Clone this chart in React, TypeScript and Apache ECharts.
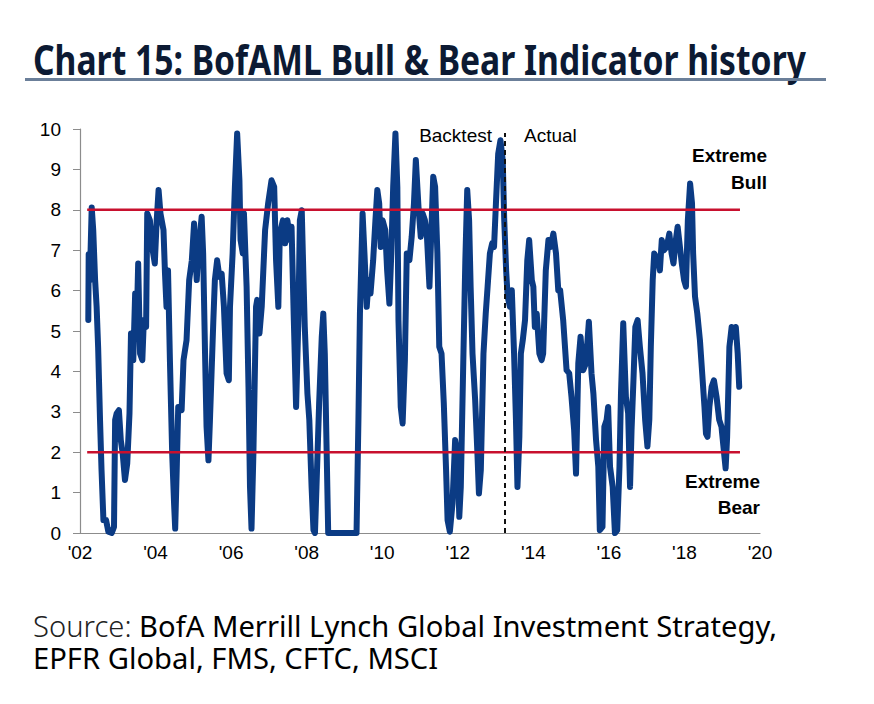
import React, { useEffect, useRef } from "react";
import * as echarts from "echarts";

const TITLE = "Chart 15: BofAML Bull & Bear Indicator history";
const SOURCE_LABEL = "Source:";
const SOURCE_LINE1 = "BofA Merrill Lynch Global Investment Strategy,";
const SOURCE_LINE2 = "EPFR Global, FMS, CFTC, MSCI";

const dates2002to2005 = [
  2002.22, 2002.23, 2002.26, 2002.31, 2002.35, 2002.4, 2002.44, 2002.48, 2002.53, 2002.57,
  2002.62, 2002.69, 2002.75, 2002.84, 2002.9, 2002.93, 2002.97, 2003.03, 2003.08, 2003.13,
  2003.19, 2003.25, 2003.31, 2003.35, 2003.41, 2003.46, 2003.5, 2003.54, 2003.59, 2003.65,
  2003.69, 2003.75, 2003.78, 2003.85, 2003.91, 2003.98, 2004.03, 2004.08, 2004.13, 2004.21,
  2004.25, 2004.29, 2004.33, 2004.38, 2004.44, 2004.49, 2004.52, 2004.56, 2004.6, 2004.69,
  2004.74, 2004.82, 2004.89, 2004.96,
];
const values2002to2005 = [
  5.27, 6.9, 6.26, 8.06, 7.5, 6.26, 5.6, 4.6, 2.8, 1.56,
  0.32, 0.32, 0.03, 0, 0.15, 2.8, 2.96, 3.04, 2.3, 1.97,
  1.31, 1.72, 2.96, 4.94, 4.28, 5.93, 5.1, 6.67, 4.44, 4.28,
  5.27, 5.1, 7.91, 7.74, 7.08, 6.67, 7.74, 8.49, 7.91, 7.5,
  6.42, 5.6, 6.5, 4.28, 1.97, 0.73, 0.11, 1.56, 3.12, 3.04,
  4.28, 4.77, 6.26, 6.75,
];

const dates2005to2008 = [
  2005.02, 2005.09, 2005.13, 2005.22, 2005.26, 2005.31, 2005.35, 2005.4, 2005.44, 2005.53,
  2005.57, 2005.63, 2005.69, 2005.75, 2005.81, 2005.88, 2005.94, 2005.97, 2006.04, 2006.1,
  2006.16, 2006.22, 2006.25, 2006.31, 2006.34, 2006.41, 2006.46, 2006.5, 2006.54, 2006.59,
  2006.66, 2006.69, 2006.75, 2006.81, 2006.9, 2006.98, 2007.07, 2007.14, 2007.19, 2007.25,
  2007.29, 2007.37, 2007.43, 2007.49, 2007.56, 2007.6, 2007.66, 2007.72, 2007.78, 2007.82,
  2007.87, 2007.91, 2007.95,
];
const values2005to2008 = [
  7.66, 6.26, 6.92, 7.83, 6.92, 4.44, 2.63, 1.8, 2.8, 5.27,
  6.26, 6.75, 6.34, 6.42, 5.6, 3.95, 3.78, 5.6, 6.92, 8.57,
  9.89, 8.73, 7.25, 6.92, 7.91, 6.1, 3.62, 1.14, 0.11, 1.97,
  5.6, 5.77, 4.94, 5.6, 7.5, 8.16, 8.73, 8.57, 6.75, 5.6,
  7.41, 7.74, 7.17, 7.74, 7.25, 7.58, 5.27, 3.12, 5.27, 7.74,
  7.99, 6.5, 5.1,
];

const dates2008to2011 = [
  2008.02, 2008.07, 2008.13, 2008.18, 2008.22, 2008.26, 2008.33, 2008.4, 2008.44, 2008.48,
  2008.53, 2008.57, 2009.32, 2009.37, 2009.41, 2009.48, 2009.53, 2009.59, 2009.64, 2009.69,
  2009.76, 2009.82, 2009.87, 2009.92, 2009.96, 2010.01, 2010.08, 2010.13, 2010.19, 2010.24,
  2010.29, 2010.35, 2010.4, 2010.43, 2010.49, 2010.54, 2010.6, 2010.65, 2010.72, 2010.78,
  2010.84, 2010.89, 2010.96,
];
const values2008to2011 = [
  3.45, 2.8, 1.14, 0.07, 0, 1.14, 3.21, 4.86, 5.43, 4.44,
  1.97, 0, 0, 2.8, 5.43, 7.91, 6.92, 5.6, 6.26, 5.93,
  6.75, 7.74, 8.49, 8.16, 7.08, 7.74, 7.5, 6.5, 5.68, 6.92,
  8.57, 9.89, 8.57, 5.27, 3.12, 2.71, 4.28, 6.92, 6.75, 7.33,
  8.16, 9.23, 8.07,
];

const dates2011to2014 = [
  2011.02, 2011.07, 2011.13, 2011.18, 2011.25, 2011.31, 2011.35, 2011.4, 2011.46, 2011.51,
  2011.57, 2011.63, 2011.69, 2011.73, 2011.79, 2011.86, 2011.93, 2011.99, 2012.04, 2012.08,
  2012.15, 2012.2, 2012.25, 2012.3, 2012.34, 2012.39, 2012.46, 2012.52, 2012.56, 2012.61,
  2012.68, 2012.74, 2012.79, 2012.85, 2012.91, 2012.96, 2013.01, 2013.07, 2013.13, 2013.19,
  2013.23, 2013.28, 2013.32, 2013.38, 2013.43, 2013.49, 2013.54, 2013.58, 2013.63, 2013.67,
  2013.72, 2013.78, 2013.84, 2013.89, 2013.96,
];
const values2011to2014 = [
  7.33, 7.91, 7.74, 7.41, 6.1, 7.74, 8.82, 8.57, 6.92, 4.61,
  4.44, 3.21, 1.56, 0.32, 0.03, 0.73, 2.3, 1.97, 0.4, 1.14,
  4.44, 6.75, 8.49, 7.74, 6.1, 4.44, 3.29, 1.97, 0.98, 1.56,
  4.44, 5.43, 6.1, 6.92, 7.17, 7.08, 8.16, 9.39, 9.72, 9.23,
  7.74, 6.5, 5.85, 5.6, 6.01, 4.44, 2.8, 1.14, 2.38, 4.44,
  4.77, 5.27, 6.75, 7.25, 6.26,
];

const dates2014to2017 = [
  2014.0, 2014.04, 2014.09, 2014.16, 2014.22, 2014.26, 2014.33, 2014.4, 2014.46, 2014.53,
  2014.6, 2014.66, 2014.71, 2014.79, 2014.88, 2014.95, 2015.01, 2015.08, 2015.13, 2015.19,
  2015.25, 2015.32, 2015.39, 2015.47, 2015.54, 2015.59, 2015.66, 2015.72, 2015.76, 2015.83,
  2015.88, 2015.94, 2015.98, 2016.03, 2016.1, 2016.16, 2016.22, 2016.28, 2016.32, 2016.38,
  2016.45, 2016.51, 2016.56, 2016.6, 2016.65, 2016.7, 2016.76, 2016.82, 2016.89, 2016.96,
];
const values2014to2017 = [
  6.1, 5.1, 5.43, 4.44, 4.28, 4.44, 6.5, 7.25, 7.08, 7.41,
  6.92, 6.01, 6.01, 5.27, 4.03, 3.95, 3.37, 2.55, 1.47, 4.2,
  4.86, 4.03, 4.2, 5.23, 3.95, 3.45, 2.3, 1.64, 0.07, 0.15,
  2.63, 2.8, 3.12, 1.64, 1.14, 0, 0.07, 1.64, 3.45, 5.19,
  3.37, 2.96, 1.14, 2.55, 3.78, 5.1, 5.27, 4.61, 3.95, 2.8,
];

const dates2017to2019 = [
  2017.02, 2017.07, 2017.11, 2017.16, 2017.2, 2017.25, 2017.29, 2017.35, 2017.4, 2017.46,
  2017.53, 2017.6, 2017.66, 2017.71, 2017.76, 2017.82, 2017.86, 2017.93, 2017.99, 2018.04,
  2018.09, 2018.15, 2018.2, 2018.23, 2018.28, 2018.34, 2018.41, 2018.47, 2018.53, 2018.57,
  2018.61, 2018.66, 2018.72, 2018.78, 2018.85, 2018.92, 2018.98, 2019.05, 2019.09, 2019.13,
  2019.19, 2019.25, 2019.31, 2019.36, 2019.41, 2019.45,
];
const values2017to2019 = [
  2.14, 2.8, 4.61, 6.26, 6.92, 6.84, 6.84, 6.5, 7.25, 7.0,
  7.08, 7.41, 6.92, 6.67, 7.17, 7.58, 7.25, 6.67, 6.26, 6.1,
  7.74, 8.65, 8.16, 6.92, 5.85, 5.43, 4.77, 3.95, 3.12, 2.46,
  2.38, 3.12, 3.62, 3.78, 3.37, 2.8, 2.63, 1.97, 1.6, 2.38,
  4.61, 5.1, 4.86, 5.1, 4.44, 3.62,
];

const bullLevel = 8;
const bearLevel = 2;
const thresholdStart = 2002.19;
const thresholdEnd = 2019.47;
const backtestEndDate = 2013.25;
const backtestLineTop = 9.9;

const xMin = 2002;
const xMax = 2020;
const xInterval = 2;
const yMin = 0;
const yMax = 10;
const yInterval = 1;

const allDates = [
  ...dates2002to2005, ...dates2005to2008, ...dates2008to2011,
  ...dates2011to2014, ...dates2014to2017, ...dates2017to2019,
];
const allValues = [
  ...values2002to2005, ...values2005to2008, ...values2008to2011,
  ...values2011to2014, ...values2014to2017, ...values2017to2019,
];

function measure(text: string, font: string): number {
  const ctx = document.createElement("canvas").getContext("2d");
  if (!ctx) return text.length * 10;
  ctx.font = font;
  return ctx.measureText(text).width;
}

export default function App() {
  const ref = useRef<HTMLDivElement>(null);

  useEffect(() => {
    document.body.style.margin = "0";
    if (!ref.current) return;
    const chart = echarts.init(ref.current, undefined, { renderer: "svg" });

    const titleFamily = '"Noto Sans", "DejaVu Sans", sans-serif';
    const titleSize = 42;
    const titleW = measure(TITLE, `bold ${titleSize}px ${titleFamily}`);
    const titleScale = 773 / titleW;

    const srcFamily = '"Noto Sans", "Open Sans", sans-serif';
    const srcSize = 29;
    const labelW = measure(SOURCE_LABEL + " ", `300 ${srcSize}px ${srcFamily}`);
    const line1W = measure(SOURCE_LINE1, `${srcSize}px ${srcFamily}`);
    const srcScale = 744 / (labelW + line1W);

    const lineData = allDates.map((d, i) => [d, allValues[i]]);
    const labelFont = '"Liberation Sans", Arial, sans-serif';

    const annot = (text: string, x: number, y: number, align: string, bold: boolean) => ({
      type: "text",
      x,
      y,
      style: {
        text,
        fontFamily: labelFont,
        fontWeight: bold ? "bold" : "normal",
        fontSize: 19,
        fill: "#000",
        align,
        verticalAlign: "middle",
      },
    });

    const option: any = {
      animation: false,
      grid: { left: 80, right: 114, top: 129, bottom: 171, containLabel: false },
      xAxis: {
        type: "value",
        min: xMin,
        max: xMax,
        interval: xInterval,
        axisLine: { show: true, lineStyle: { color: "#8c8c8c", width: 1.2 } },
        axisTick: { show: false },
        splitLine: { show: false },
        axisLabel: {
          margin: 10,
          color: "#000",
          fontFamily: labelFont,
          fontSize: 19,
          formatter: (v: number) => "'" + String(v).slice(2),
        },
      },
      yAxis: {
        type: "value",
        min: yMin,
        max: yMax,
        interval: yInterval,
        axisLine: { show: true, lineStyle: { color: "#8c8c8c", width: 1.2 } },
        axisTick: { show: true, length: 7, lineStyle: { color: "#8c8c8c" } },
        splitLine: { show: false },
        axisLabel: {
          margin: 19,
          color: "#000",
          fontFamily: labelFont,
          fontSize: 19,
        },
      },
      series: [
        {
          type: "line",
          data: lineData,
          symbol: "none",
          silent: true,
          z: 2,
          lineStyle: { color: "#0b3b84", width: 6, join: "round", cap: "round" },
        },
        {
          type: "line",
          data: [[thresholdStart, bullLevel], [thresholdEnd, bullLevel]],
          symbol: "none",
          silent: true,
          z: 3,
          lineStyle: { color: "#c8102e", width: 2.5 },
        },
        {
          type: "line",
          data: [[thresholdStart, bearLevel], [thresholdEnd, bearLevel]],
          symbol: "none",
          silent: true,
          z: 3,
          lineStyle: { color: "#c8102e", width: 2.5 },
        },
        {
          type: "line",
          data: [[backtestEndDate, yMin], [backtestEndDate, backtestLineTop]],
          symbol: "none",
          silent: true,
          z: 4,
          lineStyle: { color: "#111", width: 2, type: [5, 4] },
        },
      ],
      graphic: [
        {
          type: "text",
          x: 33,
          y: 58,
          scaleX: titleScale,
          style: {
            text: TITLE,
            fontFamily: titleFamily,
            fontWeight: "bold",
            fontSize: titleSize,
            fill: "#0c1a33",
            align: "left",
            verticalAlign: "middle",
          },
        },
        {
          type: "rect",
          shape: { x: 25, y: 78, width: 801, height: 3 },
          style: { fill: "#6b7f99" },
        },
        {
          type: "text",
          x: 33,
          y: 626,
          scaleX: srcScale,
          style: {
            text: SOURCE_LABEL,
            fontFamily: srcFamily,
            fontWeight: 300,
            fontSize: srcSize,
            fill: "#222",
            align: "left",
            verticalAlign: "middle",
          },
        },
        {
          type: "text",
          x: 33 + labelW * srcScale,
          y: 626,
          scaleX: srcScale,
          style: {
            text: SOURCE_LINE1,
            fontFamily: srcFamily,
            fontSize: srcSize,
            fill: "#000",
            align: "left",
            verticalAlign: "middle",
          },
        },
        {
          type: "text",
          x: 33,
          y: 658,
          scaleX: srcScale,
          style: {
            text: SOURCE_LINE2,
            fontFamily: srcFamily,
            fontSize: srcSize,
            fill: "#000",
            align: "left",
            verticalAlign: "middle",
          },
        },
        annot("Backtest", 492, 135, "right", false),
        annot("Actual", 524, 135, "left", false),
        annot("Extreme", 767, 155, "right", true),
        annot("Bull", 767, 182, "right", true),
        annot("Extreme", 760, 481, "right", true),
        annot("Bear", 760, 507, "right", true),
      ],
    };

    chart.setOption(option);
    return () => chart.dispose();
  }, []);

  return <div ref={ref} style={{ width: 874, height: 704 }} />;
}
